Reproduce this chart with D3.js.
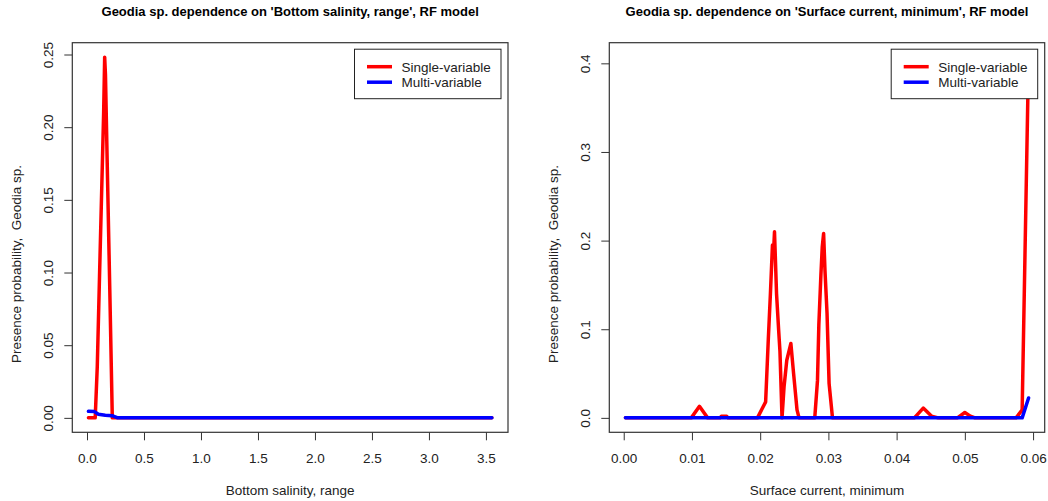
<!DOCTYPE html>
<html>
<head>
<meta charset="utf-8">
<script src="https://cdn.jsdelivr.net/npm/d3@7"></script>
<style>
    body { margin: 0; background: #fff; }
    svg text { font-family: "Liberation Sans", Arial, sans-serif; fill: #000; }
</style>
</head>
<body>
<svg id="chart" width="1048" height="501"></svg>
<script>
// values

// left: Bottom salinity, range
var salinitySingleX = [0.0126, 0.072, 0.09, 0.11, 0.13, 0.146, 0.155, 0.162, 0.18, 0.20, 0.222, 3.552];
var salinitySingleY = [0, 0, 0.035, 0.098, 0.16, 0.21, 0.2482, 0.236, 0.165, 0.088, 0, 0];
var salinityMultiX = [0.0126, 0.065, 0.10, 0.16, 0.22, 0.27, 3.552];
var salinityMultiY = [0.0045, 0.0043, 0.0025, 0.0018, 0.0015, 0, 0];

// right: Surface current, minimum
var currentSingleX = [0.00025, 0.0099, 0.0111, 0.0123, 0.0141, 0.0143, 0.0151, 0.0153,
    0.0196, 0.0208, 0.0212, 0.0215, 0.0218, 0.02195, 0.0221, 0.0224, 0.0227, 0.0229, 0.0232,
    0.0235, 0.0239, 0.0245, 0.0249, 0.0254, 0.0257,
    0.0280, 0.0284, 0.0286, 0.0289, 0.0291, 0.0293, 0.0295, 0.0298, 0.0301, 0.0306,
    0.0426, 0.0439, 0.0451, 0.0461, 0.0489, 0.0500, 0.0508, 0.0515, 0.0575, 0.0584, 0.05934];
var currentSingleY = [0, 0, 0.013, 0, 0, 0.0018, 0.0018, 0,
    0, 0.018, 0.09, 0.14, 0.195, 0.185, 0.21, 0.14, 0.10, 0.075, 0,
    0.035, 0.065, 0.084, 0.05, 0.009, 0,
    0, 0.042, 0.105, 0.161, 0.193, 0.208, 0.166, 0.118, 0.039, 0,
    0, 0.011, 0.002, 0, 0, 0.006, 0.002, 0, 0, 0.009, 0.407];
var currentMultiX = [0.00025, 0.0584, 0.05934];
var currentMultiY = [0, 0, 0.0225];

// tick labels
var salinityTicks = [0, 0.5, 1, 1.5, 2, 2.5, 3, 3.5];
var salinityProbTicks = [0, 0.05, 0.10, 0.15, 0.20, 0.25];
var currentTicks = [0, 0.01, 0.02, 0.03, 0.04, 0.05, 0.06];
var currentProbTicks = [0, 0.1, 0.2, 0.3, 0.4];

var legendLabels = ['Single-variable', 'Multi-variable'];
var seriesColors = ['#ff0000', '#0000ff'];

var svg = d3.select('#chart');

var panels = [
    {
        id: 'salinity',
        title: "Geodia sp. dependence on 'Bottom salinity, range', RF model",
        xTitle: 'Bottom salinity, range',
        box: { left: 72.3, right: 508, top: 42.7, bottom: 432.3 },
        xTicks: salinityTicks, xFmt: d3.format('.1f'),
        yTicks: salinityProbTicks, yFmt: d3.format('.2f'),
        series: [
            { x: salinitySingleX, y: salinitySingleY },
            { x: salinityMultiX, y: salinityMultiY }
        ]
    },
    {
        id: 'current',
        title: "Geodia sp. dependence on 'Surface current, minimum', RF model",
        xTitle: 'Surface current, minimum',
        box: { left: 609.3, right: 1044.7, top: 42.7, bottom: 432.3 },
        xTicks: currentTicks, xFmt: d3.format('.2f'),
        yTicks: currentProbTicks, yFmt: d3.format('.1f'),
        series: [
            { x: currentSingleX, y: currentSingleY },
            { x: currentMultiX, y: currentMultiY }
        ]
    }
];

// R style axis range: data extent widened by 4% each side
function padExtent(values) {
    var ext = d3.extent(values),
        d = (ext[1] - ext[0]) * 0.04;
    return [ext[0] - d, ext[1] + d];
}

panels.forEach(drawPanel);

function drawPanel(p) {
    var box = p.box,
        cx = (box.left + box.right) / 2,
        allX = d3.merge(p.series.map(function (s) { return s.x; })),
        allY = d3.merge(p.series.map(function (s) { return s.y; }));

    var x = d3.scaleLinear().domain(padExtent(allX)).range([box.left, box.right]);
    var y = d3.scaleLinear().domain(padExtent(allY)).range([box.bottom, box.top]);

    var g = svg.append('g').attr('class', 'panel-' + p.id);

    g.append('defs').append('clipPath').attr('id', 'clip-' + p.id)
        .append('rect')
        .attr('x', box.left).attr('y', box.top)
        .attr('width', box.right - box.left)
        .attr('height', box.bottom - box.top);

    // title
    g.append('text')
        .attr('x', cx).attr('y', 15.5)
        .attr('text-anchor', 'middle')
        .style('font-size', '13px')
        .style('font-weight', 'bold')
        .text(p.title);

    // x axis
    var xAxis = g.append('g')
        .attr('transform', 'translate(0,' + box.bottom + ')')
        .call(d3.axisBottom(x).tickValues(p.xTicks).tickFormat(p.xFmt).tickSize(8));
    xAxis.select('.domain').remove();
    xAxis.selectAll('.tick line').attr('stroke', '#333');
    xAxis.selectAll('.tick text')
        .attr('y', 30.5).attr('dy', null)
        .style('font-size', '13.5px')
        .style('fill', '#222');

    // y axis, labels turned like R's las = 0
    var yAxis = g.append('g')
        .attr('transform', 'translate(' + box.left + ',0)')
        .call(d3.axisLeft(y).tickValues(p.yTicks).tickFormat(p.yFmt).tickSize(8));
    yAxis.select('.domain').remove();
    yAxis.selectAll('.tick line').attr('stroke', '#333');
    yAxis.selectAll('.tick text')
        .attr('x', null).attr('dy', null)
        .attr('text-anchor', 'middle')
        .attr('transform', 'translate(-19.6,0) rotate(-90)')
        .style('font-size', '13.5px')
        .style('fill', '#222');

    // axis titles
    g.append('text')
        .attr('x', cx).attr('y', 494.7)
        .attr('text-anchor', 'middle')
        .style('font-size', '13.5px')
        .style('fill', '#222')
        .text(p.xTitle);

    g.append('text')
        .attr('transform', 'translate(' + (box.left - 51.6) + ',264) rotate(-90)')
        .attr('text-anchor', 'middle')
        .style('font-size', '13.5px')
        .style('fill', '#222')
        .style('white-space', 'pre')
        .text('Presence probability,  Geodia sp.');

    // curves
    var line = d3.line()
        .x(function (d) { return x(d[0]); })
        .y(function (d) { return y(d[1]); });

    g.append('g').attr('clip-path', 'url(#clip-' + p.id + ')')
        .selectAll('path')
        .data(p.series)
        .join('path')
        .attr('d', function (s) { return line(d3.zip(s.x, s.y)); })
        .attr('fill', 'none')
        .attr('stroke', function (s, i) { return seriesColors[i]; })
        .attr('stroke-width', 3.5)
        .attr('stroke-linejoin', 'round')
        .attr('stroke-linecap', 'round');

    // plot box
    g.append('rect')
        .attr('x', box.left).attr('y', box.top)
        .attr('width', box.right - box.left)
        .attr('height', box.bottom - box.top)
        .attr('fill', 'none')
        .attr('stroke', '#333')
        .attr('stroke-width', 1.2);

    // legend, top right inset
    var lw = 146.5, lh = 49.5,
        lx = box.right - 7 - lw,
        ly = box.top + 6.5;
    var legend = g.append('g').attr('transform', 'translate(' + lx + ',' + ly + ')');
    legend.append('rect')
        .attr('width', lw).attr('height', lh)
        .attr('fill', '#fff')
        .attr('stroke', '#222');
    var rows = legend.selectAll('g.row')
        .data(legendLabels)
        .join('g')
        .attr('class', 'row')
        .attr('transform', function (d, i) { return 'translate(0,' + (17.5 + i * 15.5) + ')'; });
    rows.append('line')
        .attr('x1', 12.5).attr('x2', 37.5)
        .attr('stroke', function (d, i) { return seriesColors[i]; })
        .attr('stroke-width', 3.5);
    rows.append('text')
        .attr('x', 47).attr('y', 4.8)
        .style('font-size', '13.5px')
        .style('fill', '#222')
        .text(function (d) { return d; });
}
</script>
</body>
</html>
